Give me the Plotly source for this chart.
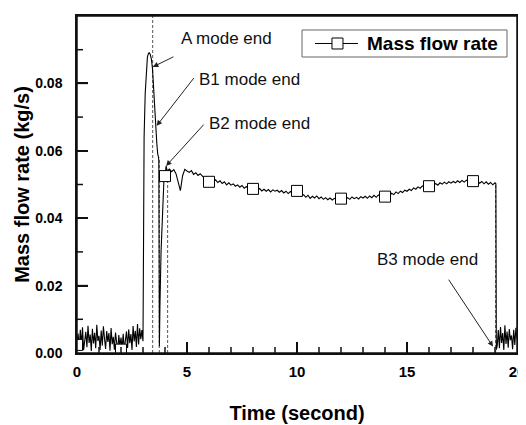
import plotly.graph_objects as go
from plotly.subplots import make_subplots

# ---------------- data ----------------
# idle noise before start, t = 0.00 ... 3.00 step 0.05  (kg/s x 1e-3)
t_pre = [round(0.05 * i, 2) for i in range(61)]
v_pre = [3.2, 5.8, 1.1, 6.9, 2.4, 7.6, 0.8, 4.9, 6.3, 1.7, 8.1, 3.0, 5.5, 0.6, 7.2,
         2.8, 6.0, 1.4, 8.4, 3.6, 5.1, 0.9, 6.7, 2.2, 7.9, 4.3, 1.2, 6.5, 3.3, 5.9,
         0.7, 7.4, 2.6, 4.8, 1.0, 6.1, 3.9, 0.5, 5.3, 2.0, 4.6, 1.3, 5.7, 0.8, 3.8,
         6.4, 1.5, 7.0, 2.9, 5.6, 0.9, 8.0, 3.4, 6.6, 1.8, 8.6, 2.5, 7.3, 4.1, 6.8,
         3.5]

# start-up transient (spike, V-dip, recovery)
t_spike = [3.01, 3.02, 3.05, 3.10, 3.15, 3.20, 3.25, 3.29, 3.33, 3.38, 3.43, 3.48,
           3.53, 3.58, 3.63, 3.67, 3.70, 3.72, 3.745, 3.77, 3.82, 3.88, 3.95, 4.00, 4.05]
v_spike = [20.0, 42.0, 64.0, 77.0, 84.0, 87.8, 88.9, 89.1, 88.6, 87.2, 84.5, 78.5,
           71.0, 66.0, 62.0, 59.0, 58.3, 57.0, 2.0, 14.0, 30.0, 43.0, 51.2, 52.5, 55.5]

# quasi-steady operation, t = 4.1 ... 19.0 step 0.1
t_mid = [round(4.1 + 0.1 * i, 2) for i in range(150)]
v_mid = [54.0, 54.6, 53.8, 54.4, 53.2, 51.0, 48.2, 52.6, 54.5, 54.0,
         53.6, 54.1, 53.0, 53.5, 52.7, 53.2, 52.4, 51.8, 52.3, 51.2,
         51.6, 50.9, 51.4, 50.6, 51.1, 50.3, 50.8, 49.9, 50.5, 49.8,
         50.2, 49.5, 49.9, 49.2, 49.7, 48.9, 49.4, 48.6, 49.1, 48.7,
         49.0, 48.3, 48.8, 48.1, 48.6, 48.0, 48.5, 47.8, 48.4, 48.0,
         48.3, 47.7, 48.2, 47.5, 48.0, 47.3, 47.9, 47.4, 48.1, 47.6,
         47.2, 46.6, 47.0, 46.2, 46.8, 45.9, 46.5, 46.0, 46.6, 45.8,
         46.3, 45.6, 46.1, 45.5, 46.0, 45.4, 45.9, 45.6, 46.2, 45.7,
         46.0, 45.5, 46.1, 45.6, 46.3, 45.8, 46.2, 45.7, 46.4, 46.0,
         46.5, 45.9, 46.6, 46.1, 46.8, 46.2, 46.9, 46.4, 47.0, 46.5,
         47.1, 46.7, 47.4, 47.0, 47.8, 47.3, 48.0, 47.6, 48.3, 48.0,
         48.6, 48.2, 49.0, 48.6, 49.3, 48.9, 49.6, 49.2, 49.9, 49.5,
         50.0, 49.6, 50.3, 49.8, 50.5, 50.1, 50.7, 50.2, 50.8, 50.4,
         50.9, 50.5, 51.1, 50.6, 51.2, 50.7, 51.3, 50.8, 51.4, 51.0,
         50.6, 51.1, 50.4, 50.9, 50.2, 50.8, 50.1, 50.6, 49.9, 50.5]

# shut-down and idle noise after the end
t_post = [19.04, 19.06] + [round(19.1 + 0.05 * i, 2) for i in range(19)]
v_post = [50.2, 1.0, 2.1, 6.8, 1.4, 7.7, 3.0, 5.9, 0.9, 8.2, 2.7, 6.4, 1.6, 7.1,
          3.8, 5.2, 1.1, 6.9, 2.4, 7.5, 4.0]

# square markers (every 2 s)
t_mark = [0, 2, 4, 6, 8, 10, 12, 14, 16, 18]
v_mark = [2.4, 1.0, 52.5, 50.8, 48.7, 48.1, 45.8, 46.4, 49.5, 51.0]

# mode-end events
mode_names = ["A mode end", "B1 mode end", "B2 mode end", "B3 mode end"]
mode_t = [3.44, 3.74, 4.12, 19.03]
mode_top = [100.0, 58.0, 54.0, 50.0]
head_t = [3.45, 3.62, 4.05, 18.91]
head_v = [84.9, 67.4, 55.5, 1.9]
tail_t = [4.45, 5.36, 5.82, 16.85]
tail_v = [88.1, 82.0, 68.2, 22.2]
label_t = [6.80, 7.82, 8.30, 15.93]
label_v = [93.2, 81.3, 68.2, 27.6]

# tick values
x_major = [5, 10, 15]
x_minor = [1, 2, 3, 4, 6, 7, 8, 9, 11, 12, 13, 14, 16, 17, 18, 19]
y_major = [0.02, 0.04, 0.06, 0.08]
y_minor = [0.01, 0.03, 0.05, 0.07, 0.09]

series_name = "Mass flow rate"

# ---------------- figure ----------------
scale = 1e-3
t_all = t_pre + t_spike + t_mid + t_post
v_all = [v * scale for v in (v_pre + v_spike + v_mid + v_post)]

FONT = "Liberation Sans, Arial, sans-serif"
LW = 1.5
fig = make_subplots(rows=1, cols=1)

fig.add_trace(go.Scatter(x=t_all, y=v_all, mode="lines", name=series_name,
                         line=dict(color="black", width=1.1), showlegend=False), row=1, col=1)
fig.add_trace(go.Scatter(x=t_mark, y=[v * scale for v in v_mark], mode="markers",
                         name=series_name,
                         marker=dict(symbol="square", size=11, color="white",
                                     line=dict(color="black", width=1)),
                         showlegend=False), row=1, col=1)

for tm, top in zip(mode_t, mode_top):
    fig.add_shape(type="line", xref="x", yref="y", x0=tm, x1=tm, y0=0, y1=top * scale,
                  line=dict(color="#555555", width=1, dash="3px,2px"), layer="between")

for i in range(len(mode_names)):
    fig.add_annotation(x=head_t[i], y=head_v[i] * scale, ax=tail_t[i], ay=tail_v[i] * scale,
                       xref="x", yref="y", axref="x", ayref="y", text="",
                       showarrow=True, arrowhead=2, arrowsize=1.1, arrowwidth=1,
                       arrowcolor="#222222", standoff=0, startstandoff=0)
    fig.add_annotation(x=label_t[i], y=label_v[i] * scale, xref="x", yref="y",
                       text=mode_names[i], showarrow=False,
                       font=dict(family=FONT, size=17, color="#111111"))

# frame and inward ticks (drawn as shapes so they always render)
fig.add_shape(type="rect", xref="paper", yref="paper", x0=0, x1=1, y0=0, y1=1,
              line=dict(color="#111111", width=LW))
for tv, ln in [(v, 11) for v in x_major] + [(v, 6) for v in x_minor]:
    fig.add_shape(type="line", xref="x", yref="y", x0=tv, x1=tv, ysizemode="pixel",
                  yanchor=0, y0=0, y1=ln, line=dict(color="#111111", width=LW))
for tv, ln in [(v, 11) for v in y_major] + [(v, 6) for v in y_minor]:
    fig.add_shape(type="line", xref="x", yref="y", y0=tv, y1=tv, xsizemode="pixel",
                  xanchor=0, x0=0, x1=ln, line=dict(color="#111111", width=LW))

# legend box drawn in paper coordinates
fig.add_shape(type="rect", xref="paper", yref="paper", x0=0.5114, x1=0.9773,
              y0=0.8783, y1=0.9585, line=dict(color="#666666", width=1), fillcolor="white")
fig.add_shape(type="line", xref="paper", yref="paper", x0=0.5409, x1=0.6386,
              y0=0.9184, y1=0.9184, line=dict(color="black", width=1))
fig.add_shape(type="rect", xref="paper", yref="paper", x0=0.5795, x1=0.6045,
              y0=0.9021, y1=0.9347, line=dict(color="black", width=1), fillcolor="white")
fig.add_annotation(xref="paper", yref="paper", x=0.6545, y=0.9184, xanchor="left",
                   yanchor="middle", text=series_name, showarrow=False,
                   font=dict(family=FONT, size=19, color="black", weight="bold"))

fig.update_xaxes(range=[0, 20], dtick=5, tick0=0,
                 showline=True, linecolor="#111111", linewidth=LW, mirror=True,
                 showgrid=False, zeroline=False, automargin=False,
                 ticks="inside", ticklen=11, tickwidth=LW, tickcolor="#111111",
                 ticklabelstandoff=4,
                 tickfont=dict(family=FONT, size=15, color="black", weight="bold"),
                 title=dict(text="Time (second)", standoff=27,
                            font=dict(family=FONT, size=20, color="black", weight="bold")))
fig.update_yaxes(range=[0, 0.10], dtick=0.02, tick0=0, tickformat=".2f",
                 showline=True, linecolor="#111111", linewidth=LW, mirror=True,
                 showgrid=False, zeroline=False, automargin=False,
                 ticks="inside", ticklen=11, tickwidth=LW, tickcolor="#111111",
                 ticklabelstandoff=10,
                 tickfont=dict(family=FONT, size=14, color="black", weight="bold"),
                 title=dict(text="Mass flow rate (kg/s)", standoff=0,
                            font=dict(family=FONT, size=20, color="black", weight="bold")))

# page body has an 8 px margin: figure is shifted by (8, 8)
fig.update_layout(width=518, height=417, margin=dict(l=69, r=9, t=8, b=72),
                  paper_bgcolor="white", plot_bgcolor="white", showlegend=False)

fig.write_html("out.html")
